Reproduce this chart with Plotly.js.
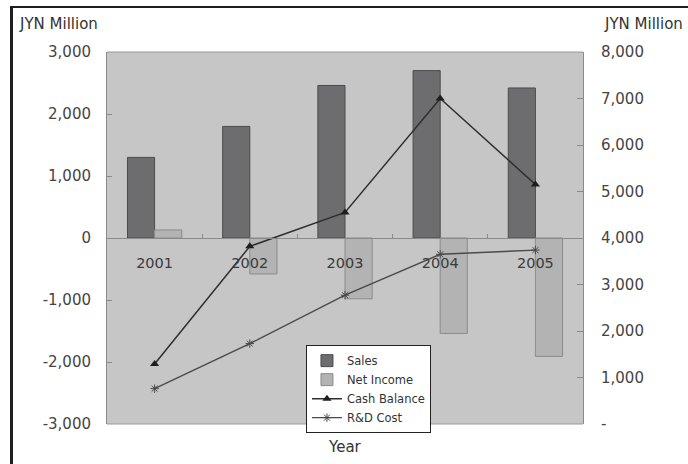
<!DOCTYPE html>
<html>
<head>
<meta charset="utf-8">
<script src="https://cdn.plot.ly/plotly-3.0.1.min.js"></script>
<style>
  html, body { margin: 0; padding: 0; background: #ffffff; overflow: hidden; }
  #wrap { position: relative; width: 688px; height: 464px; overflow: hidden; }
  #chart { position: absolute; left: 0; top: 0; width: 688px; height: 464px; }
  #frame {
    position: absolute; left: 10px; top: 6px; width: 900px; height: 700px;
    border-left: 3px solid #1f1f1f; border-top: 2px solid #1f1f1f;
    pointer-events: none;
  }
</style>
</head>
<body>
<div id="wrap">
  <div id="chart"></div>
  <div id="frame"></div>
</div>
<script>
// Fiscal years
const years = ['2001', '2002', '2003', '2004', '2005'];

// JYN million, left axis
const sales = [1300, 1800, 2460, 2700, 2420];
const netIncome = [130, -580, -980, -1540, -1910];

// JYN million, right axis
const cashBalance = [1290, 3820, 4550, 7000, 5150];
const rdCost = [760, 1730, 2770, 3650, 3740];

// Axis tick labels
const leftTickVals = [-3000, -2000, -1000, 0, 1000, 2000, 3000];
const leftTickText = ['-3,000', '-2,000', '-1,000', '0', '1,000', '2,000', '3,000'];
const rightTickVals = [0, 1000, 2000, 3000, 4000, 5000, 6000, 7000, 8000];
const rightTickText = ['-', '1,000', '2,000', '3,000', '4,000', '5,000', '6,000', '7,000', '8,000'];

const FONT = 'DejaVu Sans, Arial, sans-serif';
const AXIS_GRAY = '#8a8a8a';
const LABEL = '#444444';

const traces = [
  {
    type: 'bar', name: 'Sales', x: years, y: sales, yaxis: 'y',
    marker: { color: '#6d6d6f', line: { color: '#4c4c4c', width: 1 } }
  },
  {
    type: 'bar', name: 'Net Income', x: years, y: netIncome, yaxis: 'y',
    marker: { color: '#b3b3b3', line: { color: '#8c8c8c', width: 1 } }
  },
  {
    type: 'scatter', mode: 'lines+markers', name: 'Cash Balance',
    x: years, y: cashBalance, yaxis: 'y2',
    line: { color: '#2e2e2e', width: 1.5 },
    marker: { symbol: 'triangle-up', size: 8, color: '#1e1e1e' }
  },
  {
    type: 'scatter', mode: 'lines+markers', name: 'R&D Cost',
    x: years, y: rdCost, yaxis: 'y2',
    line: { color: '#4a4a4a', width: 1.4 },
    marker: { symbol: 'asterisk-open', size: 7, color: '#4a4a4a', line: { width: 1, color: '#4a4a4a' } }
  }
];

const layout = {
  width: 688, height: 464,
  margin: { l: 107, r: 105, t: 52, b: 40, pad: 0 },
  paper_bgcolor: '#ffffff',
  plot_bgcolor: '#c6c6c6',
  font: { family: FONT, color: LABEL },
  showlegend: true,
  barmode: 'group',
  bargap: 0.43,
  bargroupgap: 0,
  xaxis: {
    type: 'category',
    anchor: 'free', position: 0.5,
    showline: true, linecolor: AXIS_GRAY, linewidth: 1,
    ticks: 'inside', tickson: 'boundaries', ticklen: 4, tickcolor: AXIS_GRAY,
    tickfont: { family: FONT, size: 14.5, color: '#3a3a3a' },
    ticklabelstandoff: 12,
    showgrid: false, zeroline: false
  },
  yaxis: {
    range: [-3000, 3000],
    tickvals: leftTickVals, ticktext: leftTickText,
    ticks: 'inside', ticklen: 5, tickcolor: AXIS_GRAY,
    tickfont: { family: FONT, size: 15, color: LABEL },
    ticklabelstandoff: 12,
    showline: true, linecolor: AXIS_GRAY, linewidth: 1,
    showgrid: false, zeroline: false
  },
  yaxis2: {
    range: [0, 8000],
    overlaying: 'y', side: 'right', anchor: 'x',
    tickvals: rightTickVals, ticktext: rightTickText,
    ticks: 'inside', ticklen: 6, tickcolor: AXIS_GRAY,
    tickfont: { family: FONT, size: 15, color: LABEL },
    ticklabelstandoff: 14,
    showline: true, linecolor: AXIS_GRAY, linewidth: 1,
    showgrid: false, zeroline: false
  },
  legend: {
    x: 0.418, y: 0.212, xanchor: 'left', yanchor: 'top',
    bgcolor: '#ffffff', bordercolor: '#222222', borderwidth: 1,
    font: { family: FONT, size: 11.5, color: '#333333' },
    itemwidth: 30, tracegroupgap: 0
  },
  shapes: [
    // plot area outline (top and bottom edges)
    { type: 'line', xref: 'paper', yref: 'paper', x0: 0, x1: 1, y0: 1, y1: 1,
      line: { color: '#9a9a9a', width: 1 } },
    { type: 'line', xref: 'paper', yref: 'paper', x0: 0, x1: 1, y0: 0, y1: 0,
      line: { color: '#9a9a9a', width: 1 } }
  ],
  annotations: [
    { text: 'JYN Million', xref: 'paper', yref: 'paper', x: -0.19, y: 1.075,
      xanchor: 'left', yanchor: 'middle', showarrow: false,
      font: { family: FONT, size: 15, color: '#333333' } },
    { text: 'JYN Million', xref: 'paper', yref: 'paper', x: 1.04, y: 1.075,
      xanchor: 'left', yanchor: 'middle', showarrow: false,
      font: { family: FONT, size: 15, color: '#333333' } },
    { text: 'Year', xref: 'paper', yref: 'paper', x: 0.5, y: -0.062,
      xanchor: 'center', yanchor: 'middle', showarrow: false,
      font: { family: FONT, size: 15, color: '#333333' } }
  ]
};

Plotly.newPlot('chart', traces, layout, { staticPlot: true, displayModeBar: false });
</script>
</body>
</html>
